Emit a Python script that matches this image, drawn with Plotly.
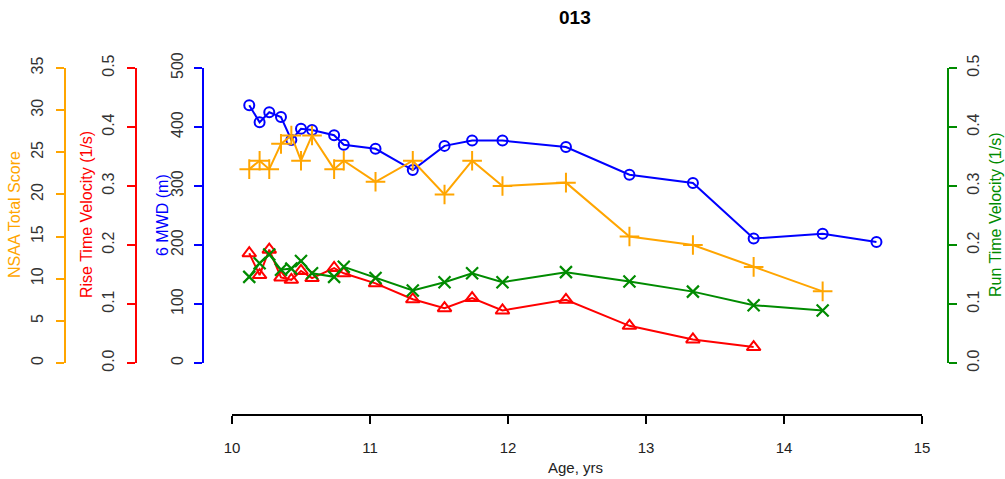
import plotly.graph_objects as go

W, H = 1005, 479

# ---------------- data ----------------
ages_all = [10.125, 10.20, 10.27, 10.355, 10.43, 10.50, 10.58, 10.74, 10.81, 11.04,
            11.31, 11.54, 11.74, 11.96, 12.42, 12.88, 13.34, 13.78, 14.28, 14.67]
mwd6 = [437, 408, 425, 417, 378, 397, 395, 386, 370, 363,
        327, 368, 377, 377, 366, 319, 305, 211, 219, 205]
nsaa = [23, 24, 23, 26, 27, 24, 27, 23, 24, 21.5,
        24, 20, 24, 21, 21.4, 15, 14, 11.4, 8.5]
rise_vel = [0.186, 0.149, 0.192, 0.145, 0.141, 0.156, 0.144, 0.161, 0.152, 0.135,
            0.108, 0.093, 0.110, 0.089, 0.107, 0.063, 0.040, 0.027]
run_vel = [0.146, 0.169, 0.184, 0.158, 0.160, 0.173, 0.152, 0.146, 0.163, 0.144,
           0.123, 0.137, 0.152, 0.137, 0.154, 0.138, 0.121, 0.098, 0.089]

x_ticks = [10, 11, 12, 13, 14, 15]
mwd_ticks = [0, 100, 200, 300, 400, 500]
nsaa_ticks = [0, 5, 10, 15, 20, 25, 30, 35]
vel_ticks = [0.0, 0.1, 0.2, 0.3, 0.4, 0.5]

title = "013"
xlabel = "Age, yrs"
label_mwd = "6 MWD (m)"
label_nsaa = "NSAA Total Score"
label_rise = "Rise Time Velocity (1/s)"
label_run = "Run Time Velocity (1/s)"

# ---------------- styling ----------------
BLUE = "#0000FF"
ORANGE = "#FFA500"
RED = "#FF0000"
GREEN = "#008B00"
FONT = "Liberation Sans, Arial, sans-serif"
TXT = "#333333"


def px_x(p):
    return p / W


def px_y(p):
    return 1 - p / H


y_dom = [px_y(363), px_y(68)]
x_dom = [px_x(232), px_x(922)]

fig = go.Figure()

fig.add_trace(go.Scatter(
    x=ages_all[:len(mwd6)], y=mwd6, yaxis="y", mode="lines+markers",
    line=dict(color=BLUE, width=2),
    marker=dict(symbol="circle-open", size=10, color=BLUE, line=dict(width=2, color=BLUE)),
    cliponaxis=False, showlegend=False))
fig.add_trace(go.Scatter(
    x=ages_all[:len(nsaa)], y=nsaa, yaxis="y2", mode="lines+markers",
    line=dict(color=ORANGE, width=2),
    marker=dict(symbol="cross-thin-open", size=14, color=ORANGE, line=dict(width=2, color=ORANGE)),
    cliponaxis=False, showlegend=False))
fig.add_trace(go.Scatter(
    x=ages_all[:len(rise_vel)], y=rise_vel, yaxis="y3", mode="lines+markers",
    line=dict(color=RED, width=2),
    marker=dict(symbol="triangle-up-open", size=12, color=RED, line=dict(width=2, color=RED)),
    cliponaxis=False, showlegend=False))
fig.add_trace(go.Scatter(
    x=ages_all[:len(run_vel)], y=run_vel, yaxis="y4", mode="lines+markers",
    line=dict(color=GREEN, width=2),
    marker=dict(symbol="x-thin-open", size=12, color=GREEN, line=dict(width=2.2, color=GREEN)),
    cliponaxis=False, showlegend=False))


def yax(color, rng, ticks, fmt, pos, side="left", overlay=True, standoff=7):
    d = dict(
        domain=y_dom, range=rng, tickmode="array", tickvals=ticks,
        ticktext=[fmt.format(t) for t in ticks],
        showgrid=False, zeroline=False, showline=True, linecolor=color, linewidth=2,
        ticks="outside", ticklen=8, tickwidth=2, tickcolor=color,
        tickangle=-90, tickfont=dict(family=FONT, size=16, color=TXT),
        anchor="free", position=pos, side=side, automargin=False,
        ticklabelstandoff=standoff, fixedrange=True,
    )
    if overlay:
        d["overlaying"] = "y"
    return d


fig.update_layout(
    width=W, height=H,
    margin=dict(l=0, r=0, t=0, b=0),
    paper_bgcolor="white", plot_bgcolor="white",
    template="none",
    font=dict(family=FONT, size=14, color="black"),
    xaxis=dict(
        domain=x_dom, range=[10, 15], tickmode="array", tickvals=x_ticks,
        showgrid=False, zeroline=False, showline=True, linecolor="black", linewidth=2,
        ticks="outside", ticklen=8, tickwidth=2, tickcolor="black",
        tickfont=dict(family=FONT, size=15, color="#222222"),
        anchor="free", position=px_y(415), automargin=False,
        ticklabelstandoff=11, fixedrange=True,
    ),
    yaxis=yax(BLUE, [0, 500], mwd_ticks, "{:d}", px_x(203), overlay=False, standoff=5),
    yaxis2=yax(ORANGE, [0, 35], nsaa_ticks, "{:d}", px_x(65)),
    yaxis3=yax(RED, [0, 0.5], vel_ticks, "{:.1f}", px_x(136)),
    yaxis4=yax(GREEN, [0, 0.5], vel_ticks, "{:.1f}", px_x(948), side="right", standoff=3),
    annotations=[
        dict(text="<b>" + title + "</b>", x=px_x(575), y=px_y(17), xref="paper", yref="paper",
             showarrow=False, xanchor="center", yanchor="middle",
             font=dict(family=FONT, size=19, color="black")),
        dict(text=xlabel, x=px_x(575), y=px_y(467), xref="paper", yref="paper",
             showarrow=False, xanchor="center", yanchor="middle",
             font=dict(family=FONT, size=15, color="#222222")),
        dict(text=label_nsaa, x=px_x(15), y=px_y(215), xref="paper", yref="paper",
             showarrow=False, xanchor="center", yanchor="middle", textangle=-90,
             font=dict(family=FONT, size=16, color=ORANGE)),
        dict(text=label_rise, x=px_x(87), y=px_y(215), xref="paper", yref="paper",
             showarrow=False, xanchor="center", yanchor="middle", textangle=-90,
             font=dict(family=FONT, size=16, color=RED)),
        dict(text=label_mwd, x=px_x(163), y=px_y(215), xref="paper", yref="paper",
             showarrow=False, xanchor="center", yanchor="middle", textangle=-90,
             font=dict(family=FONT, size=16, color=BLUE)),
        dict(text=label_run, x=px_x(996), y=px_y(215), xref="paper", yref="paper",
             showarrow=False, xanchor="center", yanchor="middle", textangle=-90,
             font=dict(family=FONT, size=16, color=GREEN)),
    ],
)

fig.write_html("out.html")
